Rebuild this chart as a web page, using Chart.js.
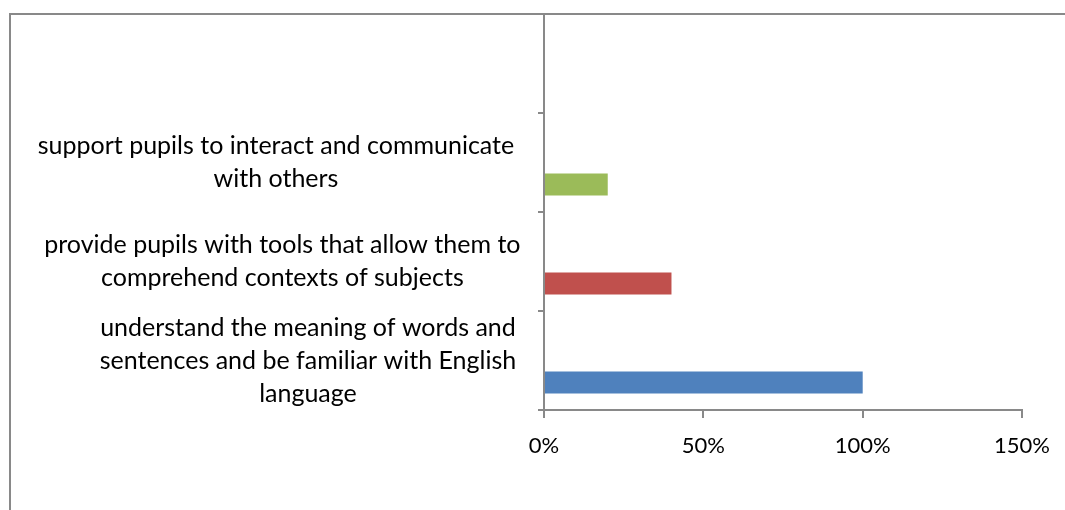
<!DOCTYPE html>
<html>
<head>
<meta charset="utf-8">
<script src="https://cdn.jsdelivr.net/npm/chart.js@4/dist/chart.umd.min.js"></script>
<style>
  html, body { margin: 0; padding: 0; background: #fff; }
  #wrap { width: 1065px; height: 510px; }
</style>
</head>
<body>
<div id="wrap"><canvas id="skills_chart"></canvas></div>
<script>
// categories, listed top to bottom (the top one is an empty slot)
// the extra spaces nudge each wrapped label off the common centre line
const categories = [
    '',
    ['support pupils to interact and communicate  ', 'with others  '],
    ['provide pupils with tools that allow them to', 'comprehend contexts of subjects'],
    ['        understand the meaning of words and',
     '        sentences and be familiar with English',
     '        language']
];
const shares = [null, 0.20, 0.40, 1.00];
const barColors = ['#4F81BD', '#9BBB59', '#C0504D', '#4F81BD'];
const xTicks = [0, 0.5, 1, 1.5];

const axisGrey = '#898989';
const fontFamily = "Lato, 'Open Sans', sans-serif";

// grey frame around the whole chart
const frame = {
    id: 'frame',
    beforeDraw(chart) {
        const ctx = chart.ctx;
        ctx.save();
        ctx.strokeStyle = axisGrey;
        ctx.lineWidth = 2;
        ctx.beginPath();
        ctx.moveTo(10, chart.height + 5);
        ctx.lineTo(10, 14);
        ctx.lineTo(chart.width + 5, 14);
        ctx.stroke();
        ctx.restore();
    }
};

const ctx = document.getElementById('skills_chart').getContext('2d');

new Chart(ctx, {
    type: 'bar',
    data: {
        labels: categories,
        datasets: [
            { label: 'a', data: [null, null, null, null] },
            { label: 'b', data: [null, null, null, null] },
            { label: 'c', data: shares, backgroundColor: barColors }
        ]
    },
    options: {
        indexAxis: 'y',
        responsive: true,
        maintainAspectRatio: false,
        animation: false,
        categoryPercentage: 0.667,
        barPercentage: 1,
        layout: { padding: { top: 14, right: 41, left: 0, bottom: 0 } },
        plugins: {
            legend: { display: false },
            tooltip: { enabled: false }
        },
        scales: {
            x: {
                min: 0,
                max: 1.5,
                afterBuildTicks: (scale) => { scale.ticks = xTicks.map(v => ({ value: v })); },
                afterFit: (scale) => { scale.height = 100; },
                ticks: {
                    color: '#000',
                    font: { family: fontFamily, size: 22 },
                    padding: 15,
                    callback: (v) => Math.round(v * 100) + '%'
                },
                grid: { drawOnChartArea: false, drawTicks: true, tickLength: 8, color: axisGrey, lineWidth: 2 },
                border: { display: true, color: axisGrey, width: 2 }
            },
            y: {
                afterFit: (scale) => {
                    scale.width = 544;
                    scale.paddingTop = 0;
                    scale.paddingBottom = 0;
                },
                ticks: {
                    color: '#000',
                    autoSkip: false,
                    crossAlign: 'center',
                    padding: 11,
                    font: { family: fontFamily, size: 25, lineHeight: 1.32 }
                },
                grid: { drawOnChartArea: false, drawTicks: true, tickLength: 6, color: axisGrey, lineWidth: 2, offset: true },
                border: { display: true, color: axisGrey, width: 2 }
            }
        }
    },
    plugins: [frame]
});
</script>
</body>
</html>
